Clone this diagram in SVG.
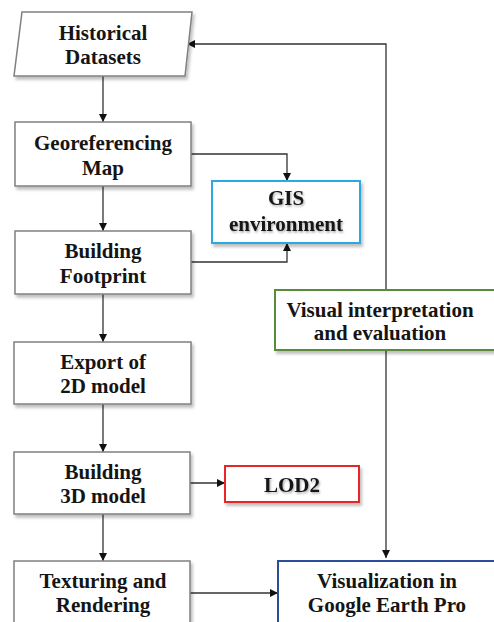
<svg xmlns="http://www.w3.org/2000/svg" width="494" height="622" viewBox="0 0 494 622">
<style>
.box{fill:#fff;stroke:#808080;stroke-width:1.5;filter:url(#sh)}
.t{font-family:'Liberation Serif','Times New Roman','DejaVu Serif',serif;font-weight:bold;font-size:21px;fill:#151515;text-anchor:middle}
.ts{filter:url(#tsh)}
.c{fill:none;stroke:#333;stroke-width:1.3}
</style>
<defs>
<filter id="sh" x="-10%" y="-10%" width="125%" height="130%">
<feDropShadow dx="2" dy="3" stdDeviation="1.5" flood-color="#000" flood-opacity="0.25"/>
</filter>
<filter id="tsh" x="-10%" y="-20%" width="120%" height="150%">
<feDropShadow dx="1" dy="1.5" stdDeviation="1" flood-color="#000" flood-opacity="0.35"/>
</filter>
<marker id="ah" viewBox="0 0 10 10" refX="10" refY="5" markerWidth="8" markerHeight="8" markerUnits="userSpaceOnUse" orient="auto">
<path d="M0,0 L10,5 L0,10 z" fill="#111"/>
</marker>
</defs>
<g id="connectors">
<path class="c" d="M103,76 V122" marker-end="url(#ah)"/>
<path class="c" d="M103,186 V231" marker-end="url(#ah)"/>
<path class="c" d="M103,294 V342" marker-end="url(#ah)"/>
<path class="c" d="M103,404 V452" marker-end="url(#ah)"/>
<path class="c" d="M103,514 V561" marker-end="url(#ah)"/>
<path class="c" d="M191,154 H287 V181" marker-end="url(#ah)"/>
<path class="c" d="M191,262 H287 V243" marker-end="url(#ah)"/>
<path class="c" d="M190,483 H225" marker-end="url(#ah)"/>
<path class="c" d="M190,593 H278" marker-end="url(#ah)"/>
<path class="c" d="M386,290 V44 H187" marker-end="url(#ah)"/>
<path class="c" d="M386,350 V558" marker-end="url(#ah)"/>
</g>
<g id="historical">
<polygon class="box" points="22,12 192,12 185,76 14,76"/>
<text class="t" x="103" y="40">Historical</text>
<text class="t" x="103" y="64">Datasets</text>
</g>
<g id="georeferencing">
<rect class="box" x="15" y="122" width="176" height="64"/>
<text class="t" x="103" y="150">Georeferencing</text>
<text class="t" x="103" y="175">Map</text>
</g>
<g id="gis">
<rect class="box" x="212" y="181" width="148" height="62" style="stroke:#29a8e0;stroke-width:2"/>
<text class="t ts" x="286" y="205">GIS</text>
<text class="t ts" x="286" y="231">environment</text>
</g>
<g id="footprint">
<rect class="box" x="15" y="231" width="176" height="63"/>
<text class="t" x="103" y="258">Building</text>
<text class="t" x="103" y="283">Footprint</text>
</g>
<g id="visual-interpretation">
<rect class="box" x="275" y="290" width="222" height="60" style="stroke:#5a8a3a;stroke-width:2"/>
<text class="t" x="380" y="317">Visual interpretation</text>
<text class="t" x="380" y="340">and evaluation</text>
</g>
<g id="export">
<rect class="box" x="14" y="342" width="177" height="62"/>
<text class="t" x="103" y="369">Export of</text>
<text class="t" x="103" y="393">2D model</text>
</g>
<g id="building3d">
<rect class="box" x="14" y="452" width="176" height="62"/>
<text class="t" x="103" y="479">Building</text>
<text class="t" x="103" y="503">3D model</text>
</g>
<g id="lod2">
<rect class="box" x="225" y="466" width="134" height="36" style="stroke:#e8262a;stroke-width:2"/>
<text class="t ts" x="292" y="492">LOD2</text>
</g>
<g id="texturing">
<rect class="box" x="14" y="561" width="176" height="70"/>
<text class="t" x="103" y="588">Texturing and</text>
<text class="t" x="103" y="612">Rendering</text>
</g>
<g id="visualization">
<rect class="box" x="278" y="561" width="222" height="70" style="stroke:#2a4f9a;stroke-width:2"/>
<text class="t" x="387" y="588">Visualization in</text>
<text class="t" x="387" y="612">Google Earth Pro</text>
</g>
</svg>
